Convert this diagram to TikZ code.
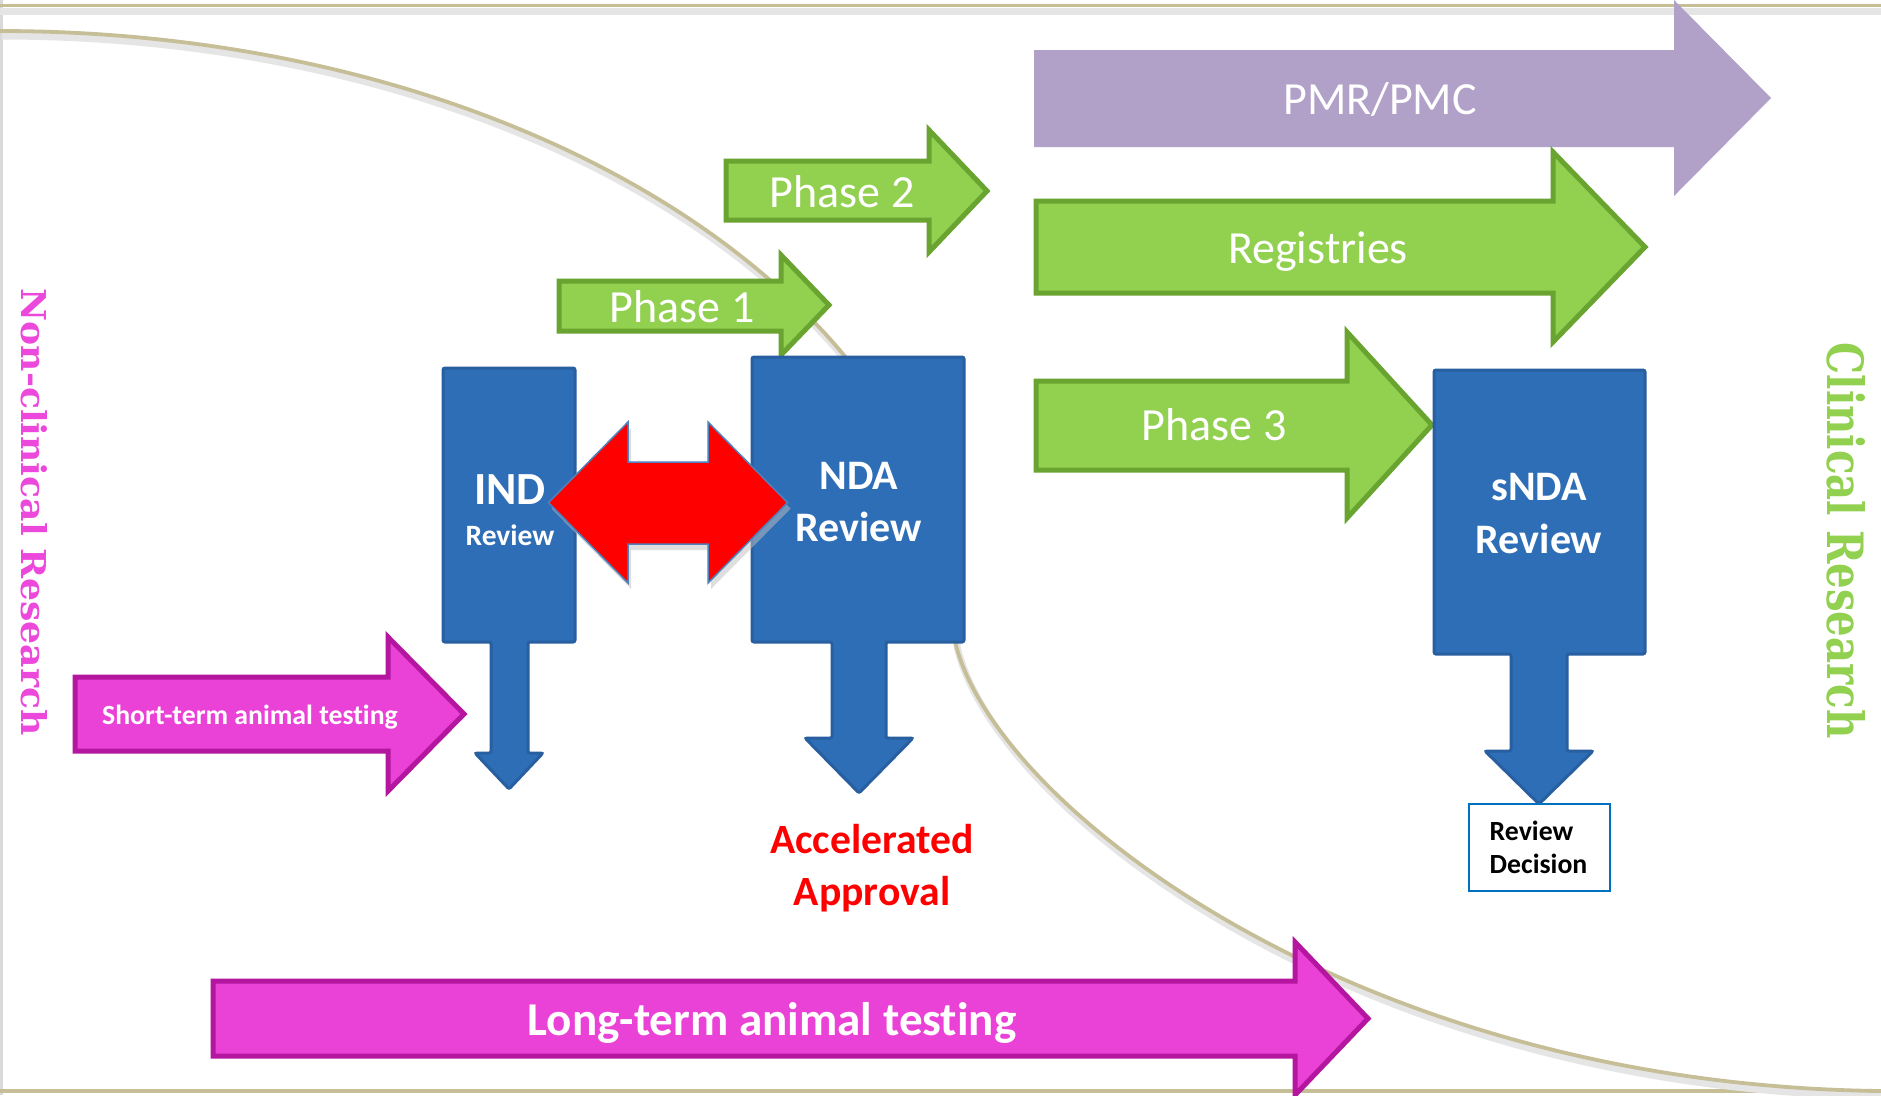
\documentclass[tikz,border=0pt]{standalone}
\usepackage{fontspec}
\usepackage{graphicx}
\setmainfont{Carlito}[Ligatures=NoCommon]
\newfontfamily\dvs{DejaVu Serif}
\definecolor{tanc}{RGB}{197,190,151}
\definecolor{gfill}{RGB}{146,208,80}
\definecolor{gline}{RGB}{106,164,48}
\definecolor{pfill}{RGB}{177,160,199}
\definecolor{bfill}{RGB}{46,110,182}
\definecolor{bline}{RGB}{40,95,160}
\definecolor{mfill}{RGB}{234,65,214}
\definecolor{mline}{RGB}{180,22,160}
\definecolor{mtext}{RGB}{236,72,220}
\definecolor{rline}{RGB}{79,129,189}
\definecolor{dline}{RGB}{0,112,192}
\newcommand{\fsBig}{\fontsize{13.1pt}{15pt}\selectfont}
\newcommand{\fsBigB}{\fontsize{13.1pt}{15pt}\selectfont\bfseries}
\newcommand{\fsLongB}{\fontsize{13.4pt}{15pt}\selectfont\bfseries}
\newcommand{\fsMidB}{\fontsize{11.95pt}{14pt}\selectfont\bfseries}
\newcommand{\fsAccB}{\fontsize{11.85pt}{14pt}\selectfont\bfseries}
\newcommand{\fsRevB}{\fontsize{8.4pt}{10pt}\selectfont\bfseries}
\newcommand{\fsSmallB}{\fontsize{7.9pt}{9pt}\selectfont\bfseries}
\begin{document}
\begin{tikzpicture}[x=0.1mm, y=-0.1mm,
  garrow/.style={fill=gfill, draw=gline, line width=0.5mm, line join=miter},
  parrow/.style={fill=pfill},
  marrow/.style={fill=mfill, draw=mline, line width=0.5mm, line join=miter},
  bshape/.style={fill=bfill, draw=bline, line width=0.3mm, rounded corners=0.2mm},
  rarrow/.style={fill=red, draw=rline, line width=0.15mm, line join=miter},
  wt/.style={text=white, inner sep=0, anchor=base},
  tanline/.style={draw=tanc, line width=0.38mm},
  shadowline/.style={draw=black!10, line width=0.7mm}
]
\useasboundingbox (0,0) rectangle (1881,1095);
\fill[white] (0,0) rectangle (1881,1095);

% frame lines
\draw[black!15, line width=0.25mm] (1.5,0) -- (1.5,1095);
\draw[shadowline] (0,11) -- (1881,11);
\draw[tanline] (0,5.5) -- (1881,5.5);
\draw[tanline, line width=0.45mm] (0,1091) -- (1881,1091);

% dividing curve
\def\curvepath{(0,31) arc[start angle=-90, end angle=0, x radius=955, y radius=610] .. controls (990,800) and (1350,1085) .. (1881,1091)}
\draw[shadowline, shift={(2,5)}] \curvepath;
\draw[tanline] \curvepath;

% PMR/PMC
\path[parrow] (1034,50) -- (1674,50) -- (1674,0) -- (1771,98) -- (1674,196) -- (1674,147) -- (1034,147) -- cycle;
\node[wt, font=\fsBig] (pmr) at (1380,114) {PMR/PMC};

% Registries
\path[garrow] (1036,201) -- (1553,201) -- (1553,152) -- (1645,247) -- (1553,342) -- (1553,293) -- (1036,293) -- cycle;
\node[wt, font=\fsBig] (reg) at (1318,263) {Registries};

% Phase 2
\path[garrow] (726,161) -- (929,161) -- (929,130) -- (987,191) -- (929,252) -- (929,220) -- (726,220) -- cycle;
\node[wt, font=\fsBig] (ph2) at (842,207) {Phase 2};

% Phase 1
\path[garrow] (559,281) -- (781,281) -- (781,255) -- (829,305) -- (781,355) -- (781,331) -- (559,331) -- cycle;
\node[wt, font=\fsBig] (ph1) at (682,322) {Phase 1};

% Phase 3
\path[garrow] (1036,381) -- (1347,381) -- (1347,332) -- (1432,425) -- (1347,518) -- (1347,470) -- (1036,470) -- cycle;
\node[wt, font=\fsBig] (ph3) at (1214,440) {Phase 3};

% IND review callout
\path[bshape] (443,368) -- (575,368) -- (575,642) -- (528,642) -- (528,753) -- (543,753) -- (509,789) -- (475,753) -- (491,753) -- (491,642) -- (443,642) -- cycle;
\node[wt, font=\fsBigB] (ind) at (510,504) {IND};
\node[wt, font=\fsRevB] (indrev) at (510,545) {Review};

% NDA review callout
\path[bshape] (752,357) -- (964,357) -- (964,642) -- (886,642) -- (886,738) -- (913,738) -- (859,793) -- (805,738) -- (832,738) -- (832,642) -- (752,642) -- cycle;
\node[wt, font=\fsMidB] (nda) at (859,489) {NDA};
\node[wt, font=\fsMidB] (ndarev) at (859,541) {Review};

% sNDA review callout
\path[bshape] (1434,370) -- (1645,370) -- (1645,654) -- (1567,654) -- (1567,751) -- (1593,751) -- (1539,804) -- (1485,751) -- (1511,751) -- (1511,654) -- (1434,654) -- cycle;
\node[wt, font=\fsMidB] (snda) at (1539,500) {sNDA};
\node[wt, font=\fsMidB] (sndarev) at (1539,553) {Review};

% red double arrow
\path[fill=black!25, opacity=0.5, shift={(3,6)}] (548.5,502.6) -- (628,422) -- (628,462) -- (708,462) -- (708,422) -- (787.6,502.6) -- (708,583) -- (708,544) -- (628,544) -- (628,583) -- cycle;
\path[rarrow] (548.5,502.6) -- (628,422) -- (628,462) -- (708,462) -- (708,422) -- (787.6,502.6) -- (708,583) -- (708,544) -- (628,544) -- (628,583) -- cycle;

% Review decision box
\node[draw=dline, line width=0.25mm, fill=white, minimum width=14.1mm, minimum height=8.7mm, inner sep=0] (rdbox) at (1539.3,847.4) {};
\node[inner sep=0, anchor=base west, font=\fsSmallB] (rd1) at (1489,840) {Review};
\node[inner sep=0, anchor=base west, font=\fsSmallB] (rd2) at (1489,873) {Decision};

% Accelerated approval
\node[inner sep=0, anchor=base, text=red, font=\fsAccB] (acc1) at (872,853) {Accelerated};
\node[inner sep=0, anchor=base, text=red, font=\fsAccB] (acc2) at (872,905) {Approval};

% Short-term animal testing
\path[marrow] (75,677) -- (388,677) -- (388,637) -- (464,714) -- (388,791) -- (388,751) -- (75,751) -- cycle;
\node[wt, font=\fsSmallB] (short) at (250,724) {Short-term animal testing};

% Long-term animal testing
\path[marrow] (213,981) -- (1295,981) -- (1295,942) -- (1368,1018.5) -- (1295,1095) -- (1295,1056) -- (213,1056) -- cycle;
\node[wt, font=\fsLongB] (long) at (772,1035) {Long-term animal testing};

% vertical labels
\node[rotate=-90, anchor=base west, inner sep=0, text=mtext] (nonclin) at (21,288) {\resizebox{44.7mm}{2.6mm}{\dvs\bfseries Non-clinical Research}};
\node[rotate=-90, anchor=base west, inner sep=0, text=gfill] (clin) at (1827,342) {\resizebox{39.6mm}{3.8mm}{\dvs\bfseries Clinical Research}};
\end{tikzpicture}
\end{document}
